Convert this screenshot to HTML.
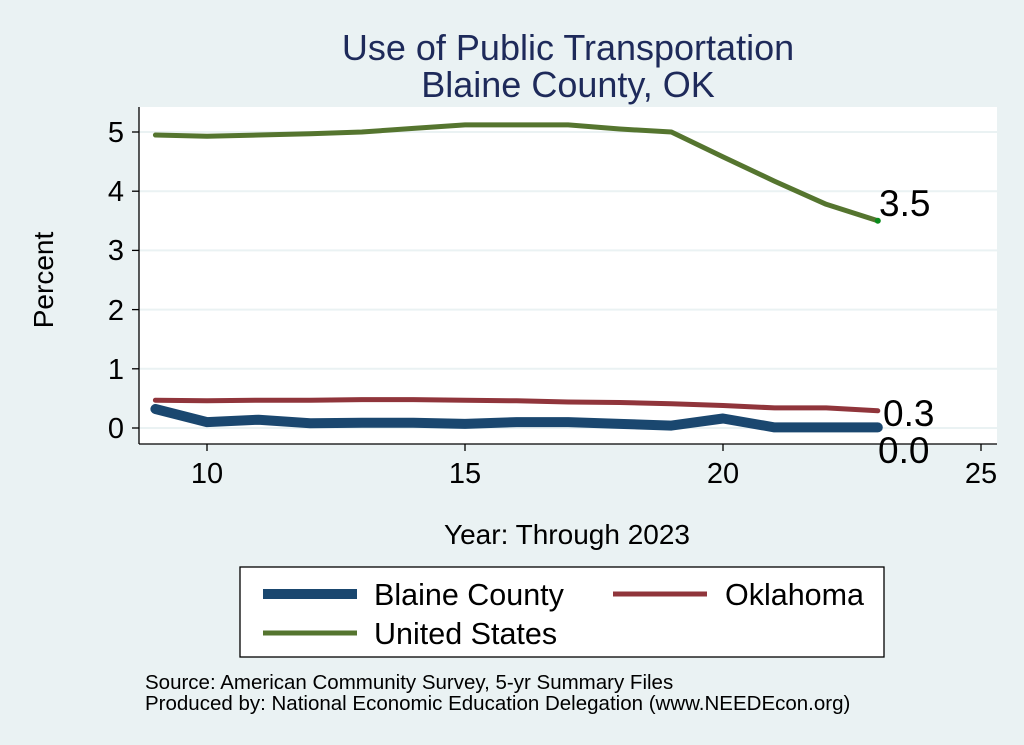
<!DOCTYPE html>
<html><head><style>
body{margin:0;background:#eaf2f3;}
svg{display:block;font-family:"Liberation Sans",Arial,sans-serif;}
</style></head><body>
<svg width="1024" height="745" viewBox="0 0 1024 745">
<rect width="1024" height="745" fill="#eaf2f3"/>
<rect x="139" y="107" width="858" height="337" fill="#fff"/>
<g stroke="#eaf2f3" stroke-width="2">
<line x1="139" x2="997" y1="132" y2="132"/><line x1="139" x2="997" y1="191.2" y2="191.2"/>
<line x1="139" x2="997" y1="250.4" y2="250.4"/><line x1="139" x2="997" y1="309.6" y2="309.6"/>
<line x1="139" x2="997" y1="368.8" y2="368.8"/><line x1="139" x2="997" y1="428" y2="428"/>
</g>
<g stroke="#000" stroke-width="1.3" fill="none">
<line x1="139" y1="107" x2="139" y2="444"/><line x1="139" y1="444" x2="997" y2="444"/>
<line x1="132" x2="139" y1="132" y2="132"/><line x1="132" x2="139" y1="191.2" y2="191.2"/>
<line x1="132" x2="139" y1="250.4" y2="250.4"/><line x1="132" x2="139" y1="309.6" y2="309.6"/>
<line x1="132" x2="139" y1="368.8" y2="368.8"/><line x1="132" x2="139" y1="428" y2="428"/>
<line x1="207" x2="207" y1="444" y2="451"/><line x1="465" x2="465" y1="444" y2="451"/>
<line x1="723" x2="723" y1="444" y2="451"/><line x1="981" x2="981" y1="444" y2="451"/>
</g>
<g font-size="29" text-anchor="end">
<text x="124" y="142">5</text><text x="124" y="201">4</text><text x="124" y="260">3</text>
<text x="124" y="320">2</text><text x="124" y="379">1</text><text x="124" y="438">0</text>
</g>
<g font-size="29" text-anchor="middle">
<text x="207" y="483">10</text><text x="465" y="483">15</text><text x="723" y="483">20</text><text x="981" y="483">25</text>
</g>
<text x="53" y="280" font-size="28" text-anchor="middle" transform="rotate(-90 53 280)">Percent</text>
<text x="567" y="544" font-size="28" text-anchor="middle">Year: Through 2023</text>
<text x="568" y="60" font-size="36" fill="#1e2a5a" text-anchor="middle">Use of Public Transportation</text>
<text x="568" y="97" font-size="36" fill="#1e2a5a" text-anchor="middle">Blaine County, OK</text>
<g fill="none" stroke-linejoin="round" stroke-linecap="round">
<polyline stroke="#55752f" stroke-width="5" points="155.4,135 207,136.2 258.6,135 310.2,133.8 361.8,132 413.4,128.4 465,124.9 516.6,124.9 568.2,124.9 619.8,129 671.4,132 723,156.9 774.6,181.2 826.2,204.3 877.8,220.8"/>
<polyline stroke="#90353b" stroke-width="5" points="155.4,400.2 207,400.8 258.6,400.2 310.2,400.2 361.8,399.6 413.4,399.6 465,400.2 516.6,400.8 568.2,402 619.8,402.5 671.4,403.7 723,405.5 774.6,407.9 826.2,407.9 877.8,410.8"/>
<polyline stroke="#1a476f" stroke-width="10" points="155.4,409 207,422.1 258.6,419.7 310.2,423.3 361.8,422.7 413.4,422.7 465,423.9 516.6,422.1 568.2,422.1 619.8,423.9 671.4,425.6 723,418.5 774.6,427.4 826.2,427.4 877.8,427.4"/>
</g>
<circle cx="877.8" cy="220.8" r="3" fill="#0a8a1a"/>
<g font-size="37">
<text x="879" y="216">3.5</text><text x="883" y="426">0.3</text><text x="878" y="463">0.0</text>
</g>
<rect x="240" y="567" width="644" height="90" fill="#fff" stroke="#000" stroke-width="1.3"/>
<line x1="263" x2="357" y1="594" y2="594" stroke="#1a476f" stroke-width="10"/>
<line x1="613" x2="707" y1="594" y2="594" stroke="#90353b" stroke-width="5"/>
<line x1="263" x2="357" y1="633" y2="633" stroke="#55752f" stroke-width="5"/>
<g font-size="30.5">
<text x="374" y="605">Blaine County</text><text x="725" y="605">Oklahoma</text><text x="374" y="644">United States</text>
</g>
<g font-size="20.5">
<text x="145" y="689">Source: American Community Survey, 5-yr Summary Files</text>
<text x="145" y="710">Produced by: National Economic Education Delegation (www.NEEDEcon.org)</text>
</g>
</svg>
</body></html>
